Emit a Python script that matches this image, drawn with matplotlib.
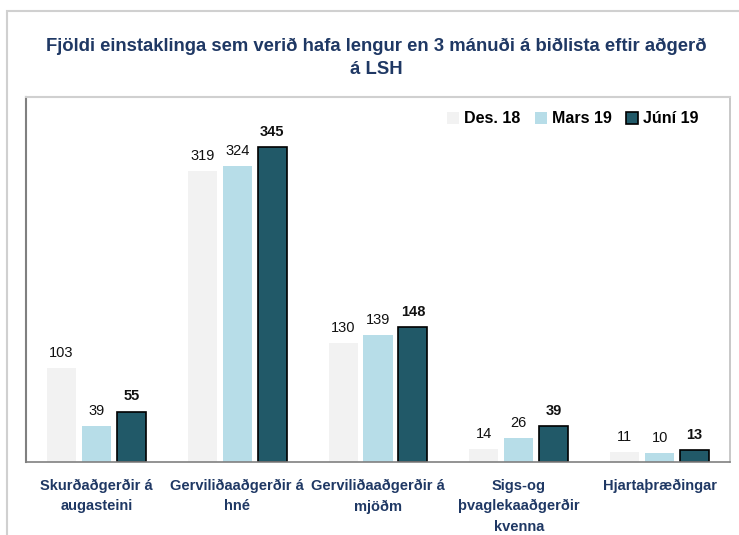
import matplotlib
matplotlib.use("Agg")
import matplotlib.pyplot as plt
import matplotlib.patches as mpatches
import numpy as np

plt.rcParams['font.family'] = ['Liberation Sans', 'DejaVu Sans']

categories = ["Skurðaðgerðir á\naugasteini", "Gerviliðaaðgerðir á\nhné",
              "Gerviliðaaðgerðir á\nmjöðm", "Sigs-og\nþvaglekaaðgerðir\nkvenna",
              "Hjartaþræðingar"]
series_names = ["Des. 18", "Mars 19", "Júní 19"]
des18 = [103, 319, 130, 14, 11]
mars19 = [39, 324, 139, 26, 10]
juni19 = [55, 345, 148, 39, 13]

colors = ["#F2F2F2", "#B7DDE8", "#215968"]
navy = "#1F3864"

fig = plt.figure(figsize=(7.39, 5.35), dpi=100)
# outer chart frame
fig.patches.append(mpatches.Rectangle((7 / 739, -0.01), 1.0, 1 - 11 / 535 + 0.01,
                                      transform=fig.transFigure, fill=False,
                                      edgecolor="#D0D0D0", lw=1.5))

ax = fig.add_axes([26 / 739, 73 / 535, 704 / 739, 365 / 535])

x = np.arange(len(categories))
width = 0.206
step = 0.248
for i, (name, vals) in enumerate(zip(series_names, [des18, mars19, juni19])):
    edge = "black" if i == 2 else "none"
    bars = ax.bar(x + (i - 1) * step, vals, width, color=colors[i],
                  edgecolor=edge, linewidth=1.2 if i == 2 else 0, label=name)
    for b, v in zip(bars, vals):
        ax.annotate(str(v), (b.get_x() + b.get_width() / 2, v),
                    xytext=(0, 6), textcoords="offset points",
                    ha="center", va="bottom", fontsize=10.5, color="#111111",
                    fontweight="bold" if i == 2 else "normal")

ax.set_xlim(-0.5, len(categories) - 0.5)
ax.set_ylim(0, 400)
ax.set_yticks([])
ax.set_xticks(x)
ax.set_xticklabels(categories, fontsize=10.5, fontweight="bold", color=navy,
                   linespacing=1.6)
ax.tick_params(axis="x", length=0, pad=12)

ax.spines["left"].set_color("#808080")
ax.spines["left"].set_linewidth(1.5)
ax.spines["bottom"].set_color("#808080")
ax.spines["bottom"].set_linewidth(1.2)
ax.spines["top"].set_color("#D0D0D0")
ax.spines["top"].set_linewidth(1.5)
ax.spines["right"].set_color("#BFBFBF")
ax.spines["right"].set_linewidth(1.2)

leg = ax.legend(loc="upper right", bbox_to_anchor=(0.975, 1.0), ncol=3,
                frameon=False, handlelength=0.75, handleheight=0.75,
                handletextpad=0.3, columnspacing=0.9,
                prop={"weight": "bold", "size": 11.5})

fig.text(376 / 739, 1 - 57.5 / 535,
         "Fjöldi einstaklinga sem verið hafa lengur en 3 mánuði á biðlista eftir aðgerð\ná LSH",
         ha="center", va="center", fontsize=13.3, fontweight="bold", color=navy,
         linespacing=1.45)

fig.savefig("out.png", dpi=100)
